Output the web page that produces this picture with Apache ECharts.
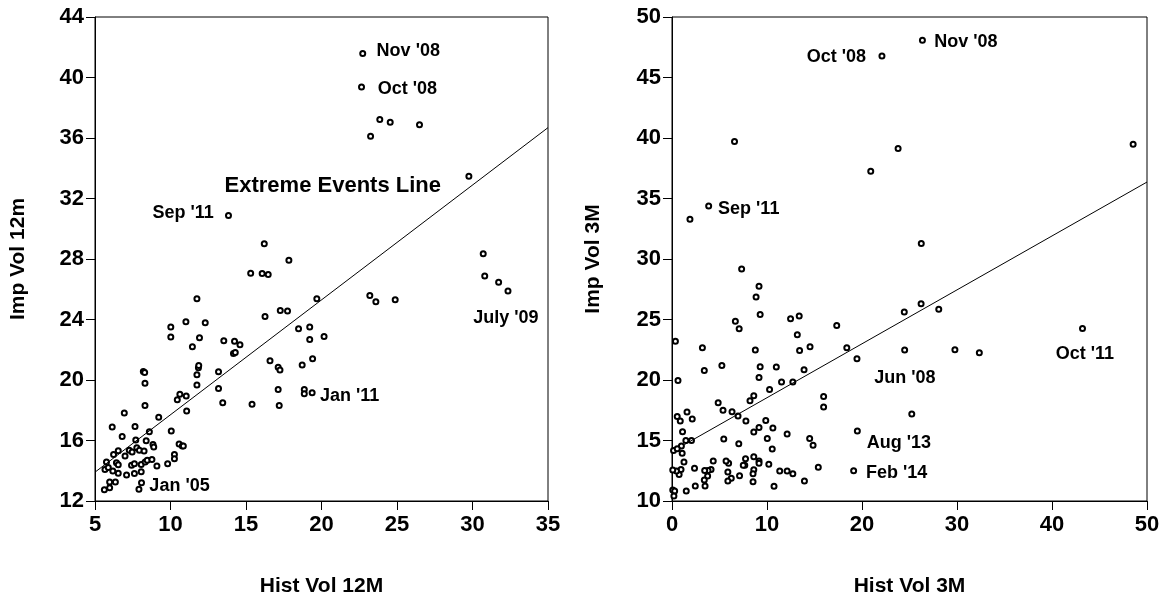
<!DOCTYPE html>
<html><head><meta charset="utf-8">
<script src="https://cdn.jsdelivr.net/npm/echarts/dist/echarts.min.js"></script>
<style>html,body{margin:0;padding:0;background:#fff}#c{width:1163px;height:602px}</style>
</head><body><div id="c"></div>
<script>
// ---------- Left panel: 12-month volatility ----------
const histVol12M = [22.73,22.65,23.86,24.55,26.49,23.25,29.76,13.84,16.21,17.84,15.31,16.07,16.47,30.71,30.81,31.73,32.35,
23.2,23.6,24.88,11.75,19.69,16.26,17.27,17.75,10.02,10.02,11.02,12.3,11.92,11.45,13.53,14.24,14.6,14.17,14.29,18.48,19.22,19.22,20.17,19.41,18.72,16.59,
17.13,17.25,17.13,17.2,18.86,18.86,19.38,15.4,13.46,13.18,13.18,11.75,11.75,11.85,11.87,11.04,10.62,10.45,11.07,8.2,8.29,8.31,8.31,6.94,9.22,6.14,
7.65,6.8,8.6,10.05,7.7,8.39,10.57,10.78,10.85,8.84,8.89,10.26,10.26,6.23,6.54,6.99,7.27,7.46,7.77,7.94,8.25,5.76,5.66,5.88,6.18,6.42,
6.54,6.54,7.09,7.42,7.61,7.61,8.06,8.06,8.32,8.46,8.77,9.1,9.81,5.62,5.97,5.97,6.35,7.91,8.08];
const impVol12M = [41.59,39.38,37.22,37.04,36.87,36.12,33.47,30.87,29.01,27.92,27.06,27.04,26.98,28.35,26.87,26.47,25.88,
25.59,25.17,25.3,25.37,25.37,24.2,24.6,24.56,23.5,22.84,23.85,23.78,22.79,22.2,22.6,22.57,22.33,21.76,21.82,23.39,23.5,22.68,22.88,21.4,21.0,21.27,
20.85,20.66,19.38,18.32,19.38,19.09,19.16,18.39,18.5,19.44,20.55,19.67,20.35,20.81,20.96,18.94,19.05,18.7,17.95,20.57,20.5,19.78,18.32,17.81,17.53,16.89,
16.93,16.27,16.58,16.63,16.03,15.99,15.77,15.63,15.63,15.74,15.57,15.08,14.8,15.08,15.33,14.97,15.35,15.24,15.52,15.35,15.3,14.58,14.09,14.22,13.98,14.53,
14.4,13.83,13.72,14.36,14.47,13.81,14.42,13.94,14.58,14.69,14.75,14.31,14.47,12.75,13.26,12.88,13.26,12.77,13.21];
const fit12M = {intercept: 10.11, slope: 0.7593, fromX: 5, toX: 35};
const notes12MText = ["Nov '08","Oct '08","Sep '11","July '09","Jan '11","Jan '05"];
const notes12MX = [23.65,23.72,8.8,30.05,19.9,8.6];
const notes12MY = [41.75,39.26,31.03,24.12,18.92,12.97];
const lineCaptionText = "Extreme Events Line";
const lineCaptionX = 13.58;
const lineCaptionY = 32.85;

// ---------- Right panel: 3-month volatility ----------
const histVol3M = [26.36,22.1,6.58,23.8,48.54,20.92,3.86,1.89,26.24,7.33,9.16,8.85,9.28,6.67,7.07,12.48,13.39,13.19,13.43,14.53,17.34,18.4,19.47,
24.45,26.22,28.08,24.49,29.78,32.35,43.21,0.36,3.2,3.4,5.25,0.63,8.77,9.28,9.16,10.98,10.27,11.53,12.72,13.9,8.61,8.21,15.96,15.96,4.86,5.37,6.32,6.95,
7.78,9.16,9.87,10.62,8.61,5.45,7.03,10.03,10.55,12.12,14.49,14.85,25.24,19.51,19.12,15.4,13.94,12.72,12.12,11.34,10.74,10.19,9.16,9.16,8.61,8.61,8.53,
8.53,7.74,7.66,7.5,7.11,6.24,5.88,5.88,5.96,5.69,4.34,4.11,3.79,3.44,3.75,3.4,3.48,2.45,2.37,1.5,1.46,2.05,2.13,1.58,0.55,0.87,1.11,0.99,1.07,1.26,
0.95,0.75,0.47,0.08,0.16,0.55,0.08,0.28,0.2];
const impVol3M = [48.08,46.77,39.71,39.14,39.49,37.25,34.38,33.28,31.29,29.18,27.75,26.85,25.41,24.86,24.23,25.06,25.28,23.74,22.44,22.74,24.51,22.66,21.75,
25.61,26.3,25.85,22.47,22.5,22.25,24.26,23.21,22.66,20.79,21.2,19.96,22.47,21.09,20.21,21.07,19.22,19.83,19.83,20.85,18.7,18.29,18.64,17.76,18.12,17.51,17.38,17.02,
16.61,16.08,16.66,16.03,15.7,15.12,14.73,15.17,14.29,15.53,15.17,14.6,17.18,15.78,12.5,12.78,11.65,12.26,12.48,12.48,11.21,13.03,13.3,13.11,13.66,12.59,12.26,
11.6,13.5,12.95,12.95,12.09,11.87,11.65,12.39,13.11,13.3,13.3,12.61,12.53,12.53,12.06,11.73,11.24,11.24,12.7,10.83,15.01,15.01,16.77,17.35,16.99,16.61,15.73,14.54,13.94,13.22,
12.61,12.2,12.48,12.56,14.18,14.32,10.91,10.83,10.41];
const fit3M = {intercept: 14.08, slope: 0.4456, fromX: 1.3, toX: 50};
const notes3MText = ["Nov '08","Oct '08","Sep '11","Oct '11","Jun '08","Aug '13","Feb '14"];
const notes3MX = [27.6,14.18,4.85,40.4,21.28,20.49,20.41];
const notes3MY = [47.94,46.7,34.14,22.12,20.15,14.8,12.33];

// ---------- build ----------
const FONT = "'Liberation Sans', Arial, sans-serif";
const zip = (xs, ys) => xs.map((x, i) => [x, ys[i]]);
const fitLine = f => [[f.fromX, f.intercept + f.slope * f.fromX], [f.toX, f.intercept + f.slope * f.toX]];
const notes = (t, xs, ys) => t.map((s, i) => ({name: s, value: [xs[i], ys[i]]}));

function xAxis(gi, min, max, interval, name) {
  return {type: 'value', gridIndex: gi, min, max, interval, name, nameLocation: 'middle', nameGap: 75,
    nameTextStyle: {fontFamily: FONT, fontWeight: 'bold', fontSize: 21, color: '#000'},
    axisLine: {show: true, onZero: false, lineStyle: {color: '#000', width: 1}},
    axisTick: {show: true, length: 9, lineStyle: {color: '#000', width: 1}},
    axisLabel: {fontFamily: FONT, fontWeight: 'bold', fontSize: 22, color: '#000', margin: 13},
    splitLine: {show: false}};
}
function yAxis(gi, min, max, interval, name, gap) {
  return {type: 'value', gridIndex: gi, min, max, interval, name, nameLocation: 'middle', nameGap: gap,
    nameTextStyle: {fontFamily: FONT, fontWeight: 'bold', fontSize: 21, color: '#000'},
    axisLine: {show: true, onZero: false, lineStyle: {color: '#000', width: 1}},
    axisTick: {show: true, length: 9, lineStyle: {color: '#000', width: 1}},
    axisLabel: {fontFamily: FONT, fontWeight: 'bold', fontSize: 22, color: '#000', margin: 11},
    splitLine: {show: false}};
}
const pointStyle = {type: 'scatter', symbol: 'emptyCircle', symbolSize: 5,
  itemStyle: {color: '#000', borderColor: '#000', borderWidth: 1, opacity: 1}, silent: true};
const fitStyle = {type: 'line', showSymbol: false, symbol: 'none', clip: true, silent: true,
  lineStyle: {color: '#000', width: 1, opacity: 1}};
const noteStyle = size => ({type: 'scatter', symbolSize: 0.01, silent: true,
  itemStyle: {color: '#000', opacity: 1},
  label: {show: true, position: 'right', distance: 0, formatter: p => p.name, opacity: 1,
    fontFamily: FONT, fontWeight: 'bold', fontSize: size, color: '#000'}});

const chart = echarts.init(document.getElementById('c'), null, {renderer: 'canvas'});
chart.setOption({
  animation: false,
  backgroundColor: '#fff',
  grid: [
    {left: 95, top: 17, width: 453, height: 486, show: true, borderColor: '#000', borderWidth: 1},
    {left: 672, top: 17, width: 475, height: 486, show: true, borderColor: '#000', borderWidth: 1}
  ],
  xAxis: [xAxis(0, 5, 35, 5, 'Hist Vol 12M'), xAxis(1, 0, 50, 10, 'Hist Vol 3M')],
  yAxis: [yAxis(0, 12, 44, 4, 'Imp Vol 12m', 66), yAxis(1, 10, 50, 5, 'Imp Vol 3M', 68)],
  series: [
    Object.assign({}, pointStyle, {xAxisIndex: 0, yAxisIndex: 0, data: zip(histVol12M, impVol12M)}),
    Object.assign({}, fitStyle, {xAxisIndex: 0, yAxisIndex: 0, data: fitLine(fit12M)}),
    Object.assign({}, noteStyle(18), {xAxisIndex: 0, yAxisIndex: 0, data: notes(notes12MText, notes12MX, notes12MY)}),
    Object.assign({}, noteStyle(22), {xAxisIndex: 0, yAxisIndex: 0, data: [{name: lineCaptionText, value: [lineCaptionX, lineCaptionY]}]}),
    Object.assign({}, pointStyle, {xAxisIndex: 1, yAxisIndex: 1, data: zip(histVol3M, impVol3M)}),
    Object.assign({}, fitStyle, {xAxisIndex: 1, yAxisIndex: 1, data: fitLine(fit3M)}),
    Object.assign({}, noteStyle(18), {xAxisIndex: 1, yAxisIndex: 1, data: notes(notes3MText, notes3MX, notes3MY)})
  ]
});
</script></body></html>
